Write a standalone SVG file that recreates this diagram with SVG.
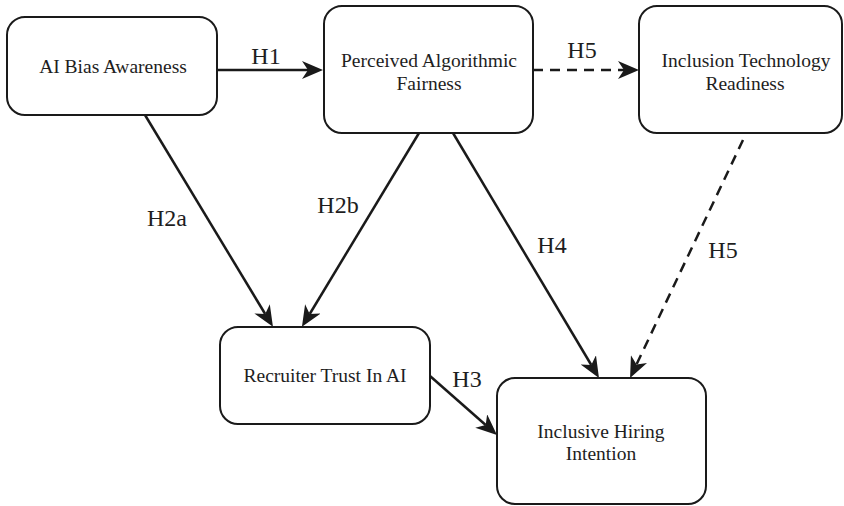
<svg xmlns="http://www.w3.org/2000/svg" width="844" height="506" viewBox="0 0 844 506">
<style>
.box{fill:#fff;stroke:#1a1a1a;stroke-width:2}
text{font-family:'Liberation Serif','DejaVu Serif',serif;fill:#1e1e1e;text-anchor:middle}
.t{font-size:19.5px}
.lbl{font-size:24px}
.c{stroke:#1a1a1a;stroke-width:2.5;fill:none}
.d{stroke-dasharray:10 7}
</style>
<defs>
<marker id="ah" markerUnits="userSpaceOnUse" viewBox="0 0 21 18" markerWidth="21" markerHeight="18" refX="6" refY="9" orient="auto">
<path d="M0,0 L21,9 L0,18 L6,9 z" fill="#1a1a1a"/>
</marker>
</defs>
<rect width="844" height="506" fill="#fff"/>
<g id="connectors">
<line class="c" x1="217" y1="70" x2="308" y2="70" marker-end="url(#ah)"/>
<line class="c d" x1="533" y1="70" x2="624" y2="70" marker-end="url(#ah)"/>
<line class="c" x1="145" y1="115" x2="265.2" y2="314" marker-end="url(#ah)"/>
<line class="c" x1="419" y1="133" x2="309.7" y2="314" marker-end="url(#ah)"/>
<line class="c" x1="453" y1="133" x2="591.3" y2="365" marker-end="url(#ah)"/>
<line class="c d" x1="743" y1="140" x2="636.5" y2="364.5" marker-end="url(#ah)"/>
<line class="c" x1="430" y1="376" x2="485.7" y2="425" marker-end="url(#ah)"/>
<text class="lbl" x="266" y="64">H1</text>
<text class="lbl" x="582" y="58">H5</text>
<text class="lbl" x="167" y="226">H2a</text>
<text class="lbl" x="338" y="213">H2b</text>
<text class="lbl" x="552" y="253">H4</text>
<text class="lbl" x="723" y="258">H5</text>
<text class="lbl" x="467" y="387">H3</text>
</g>
<g id="node-ai-bias-awareness">
<rect class="box" x="7" y="17" width="210" height="98" rx="18"/>
<text class="t" x="113" y="73">AI Bias Awareness</text>
</g>
<g id="node-perceived-algorithmic-fairness">
<rect class="box" x="324" y="6" width="209" height="127" rx="18"/>
<text class="t" x="429" y="67">Perceived Algorithmic</text>
<text class="t" x="429" y="90">Fairness</text>
</g>
<g id="node-inclusion-technology-readiness">
<rect class="box" x="639" y="6" width="203" height="127" rx="18"/>
<text class="t" x="746" y="67">Inclusion Technology</text>
<text class="t" x="745" y="90">Readiness</text>
</g>
<g id="node-recruiter-trust">
<rect class="box" x="220" y="327" width="210" height="97" rx="18"/>
<text class="t" x="325" y="382">Recruiter Trust In AI</text>
</g>
<g id="node-inclusive-hiring-intention">
<rect class="box" x="497" y="378" width="209" height="126" rx="18"/>
<text class="t" x="601" y="438">Inclusive Hiring</text>
<text class="t" x="601" y="460">Intention</text>
</g>
</svg>
